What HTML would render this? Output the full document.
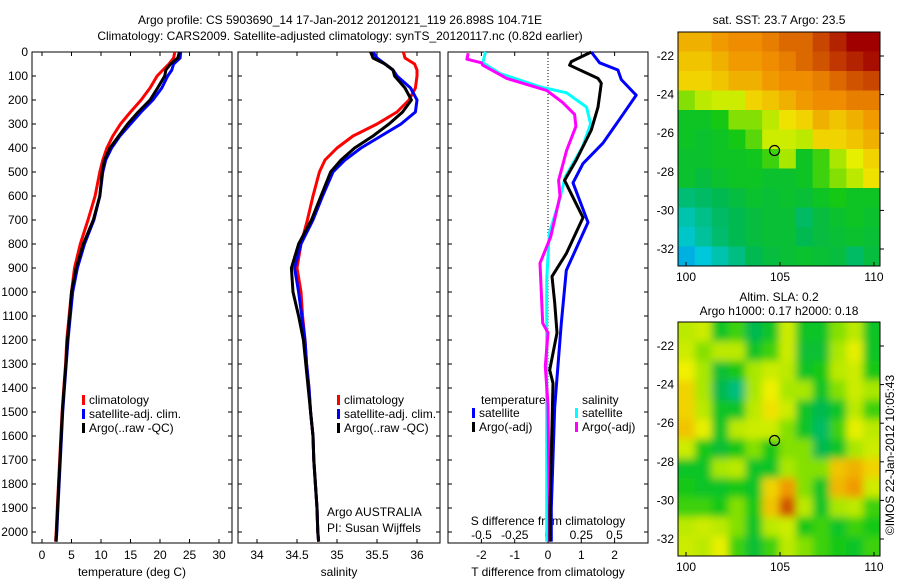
<!DOCTYPE html>
<html><head><meta charset="utf-8"><style>
body{margin:0;background:#fff}
svg text{font-family:"Liberation Sans",sans-serif;font-size:12px;fill:#000}
</style></head><body>
<svg id="s" width="900" height="580" viewBox="0 0 900 580">
<defs>
<filter id="bl" x="0" y="0" width="1" height="1"><feGaussianBlur stdDeviation="4"/></filter>
<clipPath id="c1"><rect x="678" y="322" width="202" height="234"/></clipPath>
</defs>
<text x="340" y="24" text-anchor="middle" font-size="13">Argo profile: CS 5903690_14 17-Jan-2012 20120121_119 26.898S 104.71E</text>
<text x="340" y="40" text-anchor="middle" font-size="13">Climatology: CARS2009. Satellite-adjusted climatology: synTS_20120117.nc (0.82d earlier)</text>
<g id="g"></g>
</svg>
<script>
const depths=[0,25,50,75,100,150,200,250,300,350,400,450,500,600,700,800,900,1000,1100,1200,1300,1400,1500,1600,1700,1800,1900,2000,2040];
const tempClim=[22.5,22.3,21.5,20.5,19.5,18.3,16.8,15.0,13.3,12.0,11.0,10.3,9.8,9.0,7.8,6.5,5.5,5.0,4.6,4.2,4.0,3.7,3.4,3.2,3.0,2.8,2.6,2.4,2.3];
const tempSat=[23.5,23.4,22.3,22.0,21.3,20.3,18.8,16.8,15.0,13.2,11.8,10.8,10.3,9.8,8.8,7.2,6.0,5.2,4.8,4.4,4.1,3.8,3.5,3.3,3.1,2.9,2.7,2.5,2.4];
const tempArgo=[23.3,23.0,21.8,21.0,20.8,19.6,18.3,16.3,14.5,13.0,11.5,10.6,10.2,9.8,8.7,7.0,5.8,5.0,4.7,4.3,4.05,3.75,3.45,3.25,3.05,2.85,2.65,2.45,2.35];
const salClim=[35.83,35.85,35.97,36.0,36.0,35.98,35.9,35.75,35.5,35.2,35.0,34.85,34.78,34.7,34.63,34.55,34.5,34.55,34.57,34.6,34.62,34.65,34.67,34.7,34.71,34.73,34.75,34.76,34.77];
const salSat=[35.45,35.5,35.6,35.7,35.75,35.92,36.0,35.98,35.8,35.55,35.3,35.1,34.95,34.82,34.7,34.55,34.47,34.52,34.56,34.6,34.62,34.65,34.67,34.7,34.71,34.73,34.75,34.76,34.77];
const salArgo=[35.42,35.45,35.6,35.7,35.72,35.85,35.93,35.82,35.65,35.45,35.22,35.05,34.92,34.8,34.68,34.52,34.43,34.45,34.52,34.58,34.61,34.64,34.67,34.7,34.71,34.73,34.75,34.76,34.77];
const dTsatD=[0,45,75,115,180,270,380,465,545,710,910,1130,1480,1900,2040];
const dTsat=[1.3,1.55,2.1,2.2,2.65,2.2,1.65,1.05,0.75,1.2,0.55,0.4,0.2,0.1,0.1];
const dTargoD=[0,40,55,110,130,230,325,450,535,690,840,935,1045,1170,1325,1380,1900,2040];
const dTargo=[1.3,0.7,0.65,1.5,1.6,1.5,1.3,0.85,0.5,1.05,0.55,0.12,0.2,0.27,0.05,0.15,0.06,0.06];
const dSsatD=[0,45,90,145,170,230,300,395,520,630,755,950,1900,2040];
const dSsat=[-0.47,-0.49,-0.36,-0.06,0.14,0.29,0.32,0.26,0.13,0.08,0.01,-0.01,-0.01,-0.01];
const dSargoD=[5,30,45,55,110,160,210,260,310,410,535,600,770,880,1130,1170,1310,1470,1900,2040];
const dSargo=[-0.6,-0.61,-0.5,-0.49,-0.31,-0.01,0.11,0.2,0.21,0.14,0.08,0.09,0.02,-0.06,-0.04,0,-0.02,0,0.01,0.01];
const depthTicks=[0,100,200,300,400,500,600,700,800,900,1000,1100,1200,1300,1400,1500,1600,1700,1800,1900,2000];
const tempTicks=[0,5,10,15,20,25,30];
const salTicks=[34,34.5,35,35.5,36];
const dTTicks=[-2,-1,0,1,2];
const dSTicks=[-0.5,-0.25,0,0.25,0.5];
const dSTickLabels=["-0.5","-0.25","0","0.25","0.5"];
const sstGrid=[
[.75,.75,.78,.8,.8,.82,.85,.85,.9,.95,1,1],
[.72,.72,.75,.78,.78,.8,.82,.85,.88,.92,.95,.98],
[.7,.7,.72,.75,.75,.78,.8,.8,.82,.85,.88,.9],
[.55,.6,.62,.62,.7,.72,.75,.78,.8,.8,.82,.82],
[.45,.45,.47,.55,.55,.6,.68,.7,.75,.72,.75,.78],
[.45,.44,.45,.47,.52,.62,.62,.6,.7,.7,.72,.75],
[.44,.44,.45,.45,.46,.5,.58,.45,.5,.58,.65,.7],
[.44,.42,.44,.45,.45,.44,.44,.45,.5,.55,.6,.68],
[.36,.38,.4,.42,.44,.43,.44,.43,.45,.47,.45,.45],
[.3,.34,.38,.4,.42,.43,.43,.38,.42,.44,.45,.44],
[.27,.32,.37,.4,.42,.43,.43,.4,.42,.43,.44,.43],
[.2,.25,.3,.35,.4,.42,.43,.44,.43,.42,.38,.42]];
const slaGrid=[
[.6,.62,.45,.5,.4,.45,.62,.45,.45,.55,.6,.45],
[.62,.55,.6,.6,.45,.5,.62,.43,.43,.58,.65,.45],
[.66,.58,.43,.47,.58,.62,.6,.45,.47,.6,.62,.47],
[.7,.58,.4,.35,.58,.66,.58,.58,.45,.55,.62,.58],
[.7,.6,.45,.45,.6,.68,.62,.45,.4,.45,.6,.5],
[.72,.65,.45,.6,.62,.62,.55,.45,.38,.5,.65,.6],
[.62,.47,.43,.47,.55,.47,.55,.55,.4,.45,.58,.62],
[.45,.45,.58,.6,.45,.45,.58,.55,.55,.72,.75,.7],
[.47,.45,.45,.47,.45,.7,.78,.55,.45,.74,.78,.62],
[.5,.5,.47,.55,.47,.72,.88,.6,.45,.58,.6,.5],
[.6,.62,.6,.55,.45,.6,.62,.47,.5,.45,.5,.47],
[.62,.6,.65,.5,.43,.5,.6,.55,.5,.47,.45,.5]];
const lonTicks=[100,105,110];
const latTicks=[-22,-24,-26,-28,-30,-32];
const argoLon=104.71, argoLat=-26.898;

const NS='http://www.w3.org/2000/svg';
const G=document.getElementById('g');
function mk(t,a,p){const e=document.createElementNS(NS,t);for(const k in a)e.setAttribute(k,a[k]);(p||G).appendChild(e);return e;}
const top0=52, bot=543;
const yD=d=>top0+d*0.24;
const P1={x0:32,x1:232}, P2={x0:238,x1:440}, P3={x0:448,x1:648};
const xT=v=>42+v*5.9;
const xS=v=>257+(v-34)*80;
const xdT=v=>548+v*33.3;
const xdS=v=>548+v*133;

function frame(P,name){
  const r=mk('rect',{x:P.x0,y:top0,width:P.x1-P.x0,height:bot-top0,fill:'none',stroke:'#000','stroke-width':1});
  
  
  depthTicks.forEach(d=>{
    mk('line',{x1:P.x0,x2:P.x0+4,y1:yD(d),y2:yD(d),stroke:'#000'});
    mk('line',{x1:P.x1,x2:P.x1-4,y1:yD(d),y2:yD(d),stroke:'#000'});
  });
}
frame(P1,'temperature-panel');frame(P2,'salinity-panel');frame(P3,'difference-panel');
depthTicks.forEach(d=>{const t=mk('text',{x:28,y:yD(d)+4,'text-anchor':'end'});t.textContent=d;

});
function xticks(arr,fx,P,labels,y){arr.forEach((v,i)=>{const x=fx(v);
 mk('line',{x1:x,x2:x,y1:bot,y2:bot-4,stroke:'#000'});
 mk('line',{x1:x,x2:x,y1:top0,y2:top0+4,stroke:'#000'});
 const t=mk('text',{x:x,y:y,'text-anchor':'middle'});t.textContent=labels?labels[i]:v;
 
 });}
xticks(tempTicks,xT,P1,null,559);
xticks(salTicks,xS,P2,null,559);
xticks(dTTicks,xdT,P3,null,559);
dSTicks.forEach((v,i)=>{const t=mk('text',{x:xdS(v),y:539,'text-anchor':'middle'});t.textContent=dSTickLabels[i];

});
function lbl(x,y,s,name,anchor){const t=mk('text',{x:x,y:y,'text-anchor':anchor||'start'});t.textContent=s;

return t;}
lbl(132,576,'temperature (deg C)','temperature-axis-title','middle');
lbl(339,576,'salinity','salinity-axis-title','middle');
lbl(548,576,'T difference from climatology','t-diff-axis-title','middle');
lbl(548,525,'S difference from climatology','s-diff-axis-title','middle');
lbl(327,516,'Argo AUSTRALIA','float-owner');
lbl(327,532,'PI: Susan Wijffels','float-pi');
mk('line',{x1:548,x2:548,y1:top0,y2:bot,stroke:'#000','stroke-dasharray':'1,2'});

function line(xs,ds,fx,col,name,w){
  const pts=xs.map((v,i)=>fx(v).toFixed(1)+','+yD(ds[i]).toFixed(1)).join(' ');
  const p=mk('polyline',{points:pts,fill:'none',stroke:col,'stroke-width':w||3,'stroke-linejoin':'round'});
  
  
}
line(tempClim,depths,xT,'#f00','temp-climatology');
line(tempSat,depths,xT,'#00f','temp-satellite-adj');
line(tempArgo,depths,xT,'#000','temp-argo');
line(salClim,depths,xS,'#f00','sal-climatology');
line(salSat,depths,xS,'#00f','sal-satellite-adj');
line(salArgo,depths,xS,'#000','sal-argo');
line(dSsat,dSsatD,xdS,'#0ff','dsal-satellite');
line(dSargo,dSargoD,xdS,'#f0f','dsal-argo');
line(dTsat,dTsatD,xdT,'#00f','dtemp-satellite');
line(dTargo,dTargoD,xdT,'#000','dtemp-argo');

function leg(x,y,col,s,name){const r=mk('rect',{x:x,y:y-9,width:3,height:10,fill:col});
 
 
 lbl(x+7,y,s,name);}
[82,337].forEach(x=>{
 leg(x,404,'#f00','climatology','legend-climatology');
 leg(x,418,'#00f','satellite-adj. clim.','legend-satellite-adj');
 leg(x,432,'#000','Argo(..raw -QC)','legend-argo');
});
lbl(481,404,'temperature','legend-temp-header');
lbl(582,404,'salinity','legend-sal-header');
leg(472,417,'#00f','satellite','legend-dtemp-satellite');
leg(472,431,'#000','Argo(-adj)','legend-dtemp-argo');
leg(575,417,'#0ff','satellite','legend-dsal-satellite');
leg(575,431,'#f0f','Argo(-adj)','legend-dsal-argo');

const stops=[[0,[0,80,255]],[.25,[0,200,220]],[.4,[0,185,80]],[.47,[20,200,20]],[.57,[160,230,0]],[.66,[240,240,0]],[.8,[240,140,0]],[1,[160,0,0]]];
function cmap(v){v=Math.max(0,Math.min(1,v));
 for(let i=1;i<stops.length;i++){if(v<=stops[i][0]){const a=stops[i-1],b=stops[i],t=(v-a[0])/(b[0]-a[0]);
  return 'rgb('+a[1].map((c,k)=>Math.round(c+(b[1][k]-c)*t)).join(',')+')';}}
 return 'rgb(160,0,0)';}
function map(grid,y0,name,blur){
 const x0=678,W=202,H=234;const rows=grid.length,cols=grid[0].length;
 const g=mk('g',blur?{'clip-path':'url(#c1)'}:{});
 const gi=mk('g',blur?{filter:'url(#bl)'}:{},g);
 grid.forEach((row,i)=>row.forEach((v,j)=>{
  const c=mk('rect',{x:x0+j*W/cols-(blur&&j==0?10:0),y:y0+i*H/rows-(blur&&i==0?10:0),width:W/cols+(blur&&(j==0||j==cols-1)?10:0)+0.5,height:H/rows+(blur&&(i==0||i==rows-1)?10:0)+0.5,fill:cmap(v)},gi);
  
  }));
 const f=mk('rect',{x:x0,y:y0,width:W,height:H,fill:'none',stroke:'#000'});
 
 
 const lx=v=>686+(v-100)*18.8, ly=v=>y0+24+(-22-v)*19.3;
 lonTicks.forEach(v=>{mk('line',{x1:lx(v),x2:lx(v),y1:y0+H,y2:y0+H-4,stroke:'#000'});lbl(lx(v),y0+H+15,v,'lon-tick-label','middle');});
 latTicks.forEach(v=>{mk('line',{x1:x0+W,x2:x0+W+4,y1:ly(v),y2:ly(v),stroke:'#000'});lbl(674,ly(v)+4,v,'lat-tick-label','end');});
 const m=mk('ellipse',{cx:lx(argoLon),cy:ly(argoLat),rx:5,ry:5,fill:'none',stroke:'#000','stroke-width':1.2});
 
 
}
map(sstGrid,32,'sst-map',false);
map(slaGrid,322,'sla-map',true);
lbl(779,24,'sat. SST: 23.7 Argo: 23.5','sst-map-title','middle');
lbl(779,301,'Altim. SLA: 0.2','sla-map-title','middle');
lbl(779,315,'Argo h1000: 0.17 h2000: 0.18','sla-map-subtitle','middle');
const ts=lbl(0,0,'©IMOS 22-Jan-2012 10:05:43','timestamp','middle');
ts.setAttribute('transform','translate(894,455) rotate(-90)');
</script>
</body></html>
